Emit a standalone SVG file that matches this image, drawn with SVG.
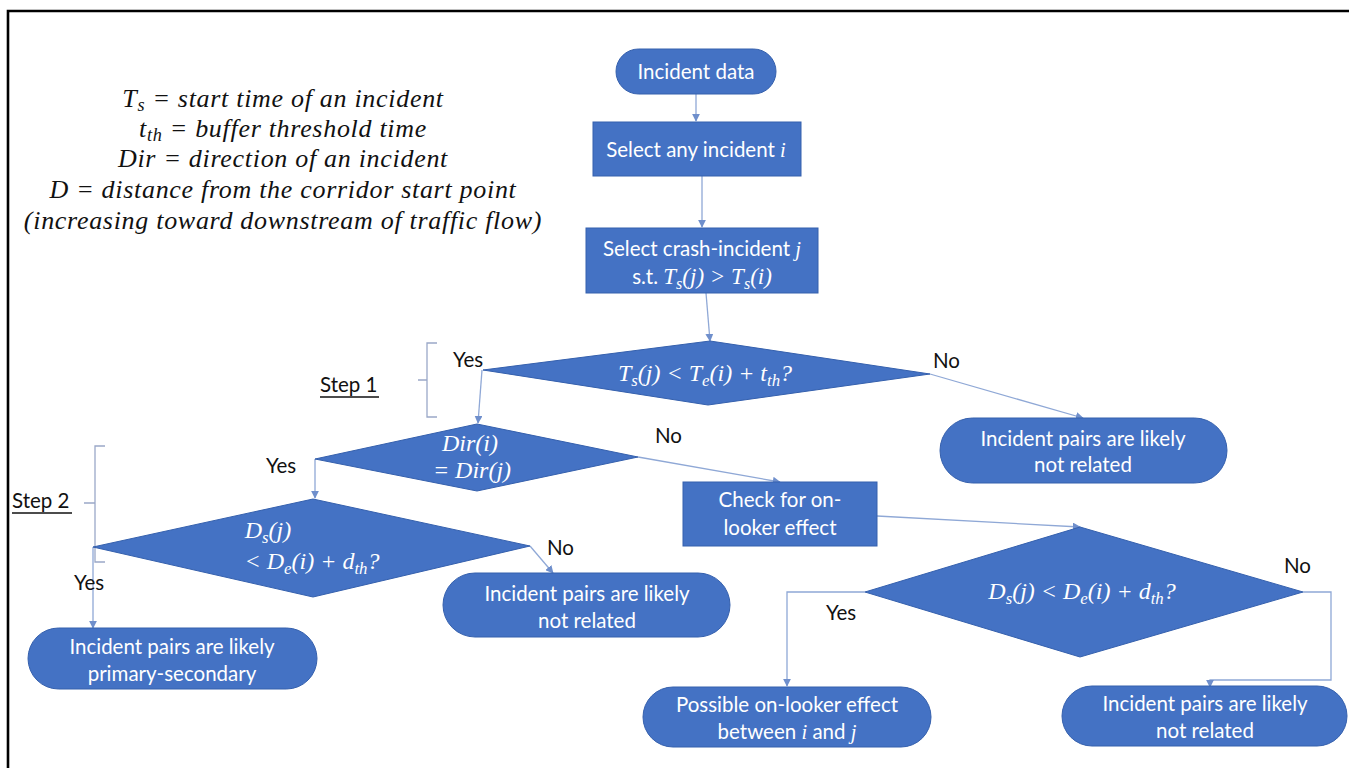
<svg xmlns="http://www.w3.org/2000/svg" width="1349" height="768" viewBox="0 0 1349 768">
<style>
.n{fill:#4472C4;stroke:#3560ad;stroke-width:1}
.t{font-family:Lato,"Open Sans","Liberation Sans",sans-serif;font-size:20.5px;fill:#fff;text-anchor:middle}
.m{font-family:"Liberation Serif","DejaVu Serif",serif;font-style:italic;font-size:24px;fill:#fff;text-anchor:middle}
.mi{font-family:"Liberation Serif","DejaVu Serif",serif;font-style:italic}
.lab{font-family:Lato,"Open Sans","Liberation Sans",sans-serif;font-size:20.5px;fill:#111}
.f{font-family:"Liberation Serif","DejaVu Serif",serif;font-style:italic;font-size:26px;letter-spacing:0.7px;fill:#111;text-anchor:middle}
.c{fill:none;stroke:#8fa8d6;stroke-width:1.3}
.br{fill:none;stroke:#9aa8c8;stroke-width:1.3}
.sub{font-size:70%}
</style>
<defs>
<marker id="ah" viewBox="0 0 10 10" refX="9" refY="5" markerWidth="8" markerHeight="8" markerUnits="userSpaceOnUse" orient="auto">
<path d="M0,0 L10,5 L0,10 z" fill="#6f8fcc"/>
</marker>
</defs>
<rect x="0" y="0" width="1349" height="768" fill="#fff"/>
<path d="M8,768 V11 H1349" fill="none" stroke="#000" stroke-width="2.6"/>

<g id="legend">
<text class="f" x="283" y="107">T<tspan class="sub" dy="4">s</tspan><tspan dy="-4"> = start time of an incident</tspan></text>
<text class="f" x="283" y="137">t<tspan class="sub" dy="4">th</tspan><tspan dy="-4"> = buffer threshold time</tspan></text>
<text class="f" x="283" y="167">Dir = direction of an incident</text>
<text class="f" x="283" y="198">D = distance from the corridor start point</text>
<text class="f" x="283" y="229">(increasing toward downstream of traffic flow)</text>
</g>

<g id="connectors">
<line class="c" x1="696" y1="94" x2="696" y2="121" marker-end="url(#ah)"/>
<line class="c" x1="702" y1="176" x2="702" y2="227" marker-end="url(#ah)"/>
<line class="c" x1="706" y1="293" x2="710" y2="341" marker-end="url(#ah)"/>
<polyline class="c" points="482,370 478,423" marker-end="url(#ah)"/>
<line class="c" x1="930" y1="374" x2="1083" y2="418" marker-end="url(#ah)"/>
<line class="c" x1="638" y1="457" x2="780" y2="482" marker-end="url(#ah)"/>
<line class="c" x1="315" y1="459" x2="315" y2="498" marker-end="url(#ah)"/>
<line class="c" x1="530" y1="546" x2="553" y2="573" marker-end="url(#ah)"/>
<line class="c" x1="93" y1="547" x2="93" y2="628" marker-end="url(#ah)"/>
<line class="c" x1="877" y1="516" x2="1080" y2="527" marker-end="url(#ah)"/>
<polyline class="c" points="865,592 787,592 787,686" marker-end="url(#ah)"/>
<polyline class="c" points="1303,592 1331,592 1331,680 1210,680 1210,687" marker-end="url(#ah)"/>
</g>

<g id="step1">
<path class="br" d="M437,343 H427 V380 H418 M427,380 V417 H437"/>
<text class="lab" x="320" y="392">Step 1</text>
<line x1="320" y1="397" x2="379" y2="397" stroke="#111" stroke-width="1.3"/>
</g>
<g id="step2">
<path class="br" d="M105,446 H95 V503 H84 M95,503 V562 H105"/>
<text class="lab" x="12" y="508">Step 2</text>
<line x1="12" y1="513" x2="72" y2="513" stroke="#111" stroke-width="1.3"/>
</g>

<g id="labels">
<text class="lab" x="453" y="367">Yes</text>
<text class="lab" x="933" y="368">No</text>
<text class="lab" x="655" y="443">No</text>
<text class="lab" x="266" y="473">Yes</text>
<text class="lab" x="547" y="555">No</text>
<text class="lab" x="74" y="590">Yes</text>
<text class="lab" x="826" y="620">Yes</text>
<text class="lab" x="1284" y="573">No</text>
</g>

<g id="n-start">
<rect class="n" x="616" y="49" width="160" height="45" rx="22.5"/>
<text class="t" x="696" y="79">Incident data</text>
</g>
<g id="n-select-i">
<rect class="n" x="593" y="122" width="208" height="54"/>
<text class="t" x="696" y="157">Select any incident <tspan class="mi">i</tspan></text>
</g>
<g id="n-select-j">
<rect class="n" x="586" y="228" width="232" height="65"/>
<text class="t" x="702" y="256">Select crash-incident <tspan class="mi">j</tspan></text>
<text class="t" x="702" y="284">s.t. <tspan class="mi" font-size="23">T<tspan class="sub" dy="5">s</tspan><tspan dy="-5">(j) &gt; T</tspan><tspan class="sub" dy="5">s</tspan><tspan dy="-5">(i)</tspan></tspan></text>
</g>
<g id="n-dec1">
<polygon class="n" points="483,370 710,341 930,374 708,405"/>
<text class="m" x="705" y="381">T<tspan class="sub" dy="5">s</tspan><tspan dy="-5">(j) &lt; T</tspan><tspan class="sub" dy="5">e</tspan><tspan dy="-5">(i) + t</tspan><tspan class="sub" dy="5">th</tspan><tspan dy="-5">?</tspan></text>
</g>
<g id="n-nr1">
<rect class="n" x="940" y="418" width="287" height="65" rx="32.5"/>
<text class="t" x="1083" y="446">Incident pairs are likely</text>
<text class="t" x="1083" y="472">not related</text>
</g>
<g id="n-dir">
<polygon class="n" points="315,459 477,424 638,457 477,491"/>
<text class="m" x="470" y="451">Dir(i)</text>
<text class="m" x="472" y="478">= Dir(j)</text>
</g>
<g id="n-check">
<rect class="n" x="683" y="482" width="194" height="64"/>
<text class="t" x="780" y="507">Check for on-</text>
<text class="t" x="780" y="535">looker effect</text>
</g>
<g id="n-dec2">
<polygon class="n" points="93,547 313,499 530,546 313,597"/>
<text class="m" x="268" y="538">D<tspan class="sub" dy="5">s</tspan><tspan dy="-5">(j)</tspan></text>
<text class="m" x="312" y="569">&lt; D<tspan class="sub" dy="5">e</tspan><tspan dy="-5">(i) + d</tspan><tspan class="sub" dy="5">th</tspan><tspan dy="-5">?</tspan></text>
</g>
<g id="n-nr2">
<rect class="n" x="443" y="573" width="287" height="64" rx="32"/>
<text class="t" x="587" y="601">Incident pairs are likely</text>
<text class="t" x="587" y="628">not related</text>
</g>
<g id="n-ps">
<rect class="n" x="28" y="628" width="289" height="61" rx="30.5"/>
<text class="t" x="172" y="654">Incident pairs are likely</text>
<text class="t" x="172" y="681">primary-secondary</text>
</g>
<g id="n-dec3">
<polygon class="n" points="865,592 1080,527 1303,592 1080,657"/>
<text class="m" x="1082" y="599">D<tspan class="sub" dy="5">s</tspan><tspan dy="-5">(j) &lt; D</tspan><tspan class="sub" dy="5">e</tspan><tspan dy="-5">(i) + d</tspan><tspan class="sub" dy="5">th</tspan><tspan dy="-5">?</tspan></text>
</g>
<g id="n-onlooker">
<rect class="n" x="643" y="687" width="288" height="60" rx="30"/>
<text class="t" x="787" y="712">Possible on-looker effect</text>
<text class="t" x="787" y="739">between <tspan class="mi">i</tspan> and <tspan class="mi">j</tspan></text>
</g>
<g id="n-nr3">
<rect class="n" x="1062" y="686" width="285" height="60" rx="30"/>
<text class="t" x="1205" y="711">Incident pairs are likely</text>
<text class="t" x="1205" y="738">not related</text>
</g>
</svg>
